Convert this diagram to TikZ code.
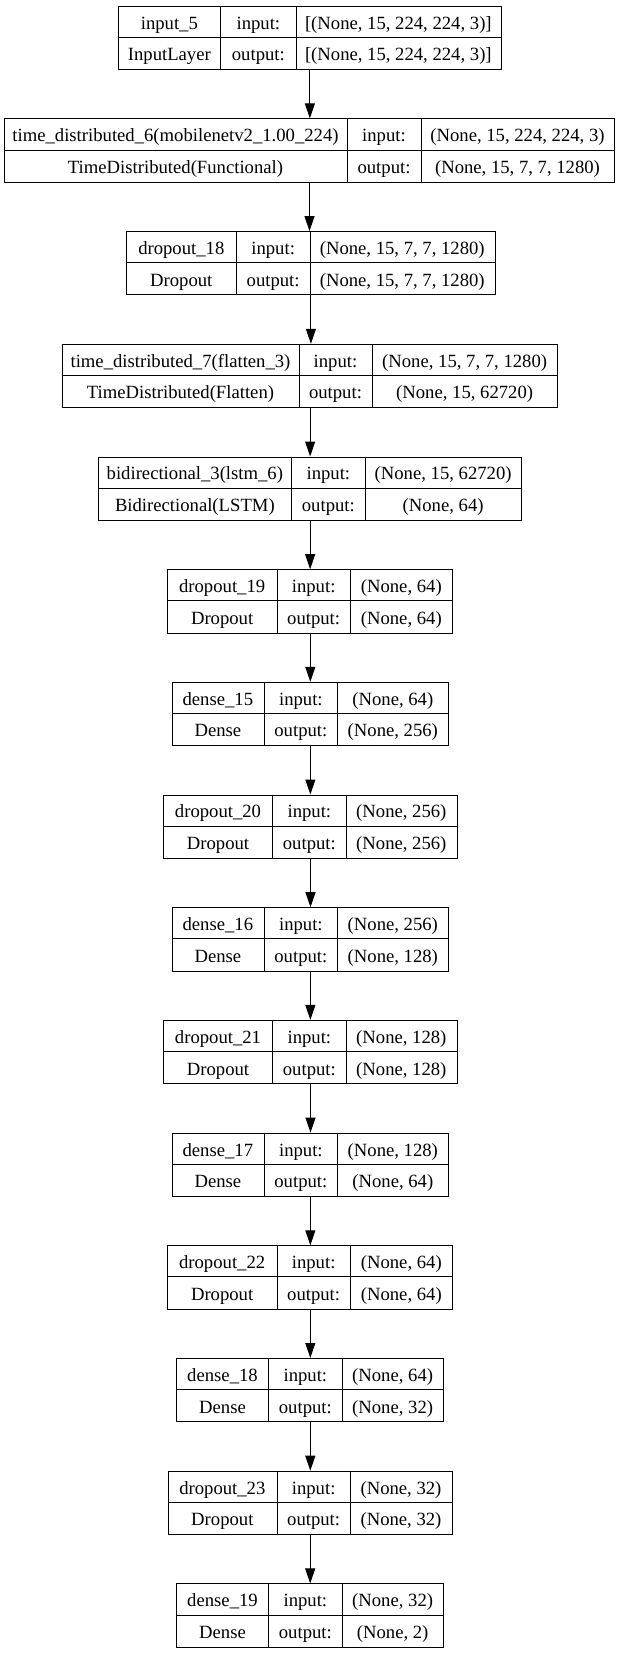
\documentclass[tikz,border=0pt]{standalone}
\usepackage{fontspec}
\setmainfont{Liberation Serif}
\usetikzlibrary{arrows.meta}
\begin{document}
\begin{tikzpicture}[x=1pt,y=-1pt,
  layerbox/.style={draw=black, line width=1pt, minimum height=63.3pt, inner sep=0pt, anchor=north west},
  rule/.style={draw=black, line width=1pt},
  cell/.style={anchor=base, inner sep=0pt, font=\fontsize{18.67}{22}\selectfont},
  flow/.style={draw=black, line width=1pt, -{Triangle[length=15pt,width=10pt]}}]
\fill[white] (0,0) rectangle (620,1653);
\useasboundingbox (0,0) rectangle (620,1653);
% one record per layer: name / top / left / divider 1 / divider 2 / right / layer / class / input / output
\foreach \n/\t/\l/\a/\b/\r/\nm/\cl/\ish/\osh in {
  b1/5.7/118/220.7/296/500.7/input\_5/InputLayer/{[(None, 15, 224, 224, 3)]}/{[(None, 15, 224, 224, 3)]},
  b2/118.4/4/347/421/614/time\_distributed\_6(mobilenetv2\_1.00\_224)/TimeDistributed(Functional)/{(None, 15, 224, 224, 3)}/{(None, 15, 7, 7, 1280)},
  b3/231.1/126.3/236.3/310/494.5/dropout\_18/Dropout/{(None, 15, 7, 7, 1280)}/{(None, 15, 7, 7, 1280)},
  b4/343.8/62/299/372/557.3/time\_distributed\_7(flatten\_3)/TimeDistributed(Flatten)/{(None, 15, 7, 7, 1280)}/{(None, 15, 62720)},
  b5/456.5/98/291.7/365/521.3/bidirectional\_3(lstm\_6)/Bidirectional(LSTM)/{(None, 15, 62720)}/{(None, 64)},
  b6/569.2/167.3/277/350.3/452.3/dropout\_19/Dropout/{(None, 64)}/{(None, 64)},
  b7/681.8/171.7/264/337.7/448/dense\_15/Dense/{(None, 64)}/{(None, 256)},
  b8/794.5/163.3/272.7/346/456.7/dropout\_20/Dropout/{(None, 256)}/{(None, 256)},
  b9/907.2/171.7/264/337.7/448/dense\_16/Dense/{(None, 256)}/{(None, 128)},
  b10/1019.9/163.3/272.7/346/456.7/dropout\_21/Dropout/{(None, 128)}/{(None, 128)},
  b11/1132.6/171.7/264/337.7/448/dense\_17/Dense/{(None, 128)}/{(None, 64)},
  b12/1245.3/167.3/277/350.3/452.3/dropout\_22/Dropout/{(None, 64)}/{(None, 64)},
  b13/1358.0/176.3/268.7/342/443.3/dense\_18/Dense/{(None, 64)}/{(None, 32)},
  b14/1470.7/167.7/277/350.3/451.7/dropout\_23/Dropout/{(None, 32)}/{(None, 32)},
  b15/1583.4/176.3/268.7/342/443.3/dense\_19/Dense/{(None, 32)}/{(None, 2)}}{
  \node[layerbox, minimum width={(\r-\l)*1pt}] (\n) at (\l,\t) {};
  \draw[rule] (\l,\t+31.65) -- (\r,\t+31.65);
  \draw[rule] (\a,\t) -- (\a,\t+63.3);
  \draw[rule] (\b,\t) -- (\b,\t+63.3);
  \node[cell] (\n-name)  at ({(\l+\a)/2},\t+23.4) {\nm};
  \node[cell] (\n-in)    at ({(\a+\b)/2},\t+23.4) {input:};
  \node[cell] (\n-ishape) at ({(\b+\r)/2},\t+23.4) {\ish};
  \node[cell] (\n-class) at ({(\l+\a)/2},\t+55.1) {\cl};
  \node[cell] (\n-out)   at ({(\a+\b)/2},\t+55.1) {output:};
  \node[cell] (\n-oshape) at ({(\b+\r)/2},\t+55.1) {\osh};
}
% data flow between consecutive layers
\foreach \p/\q in {b1/b2,b2/b3,b3/b4,b4/b5,b5/b6,b6/b7,b7/b8,b8/b9,b9/b10,b10/b11,b11/b12,b12/b13,b13/b14,b14/b15}
  \draw[flow] (\p.south) -- (\p.south |- \q.north);
\end{tikzpicture}
\end{document}
